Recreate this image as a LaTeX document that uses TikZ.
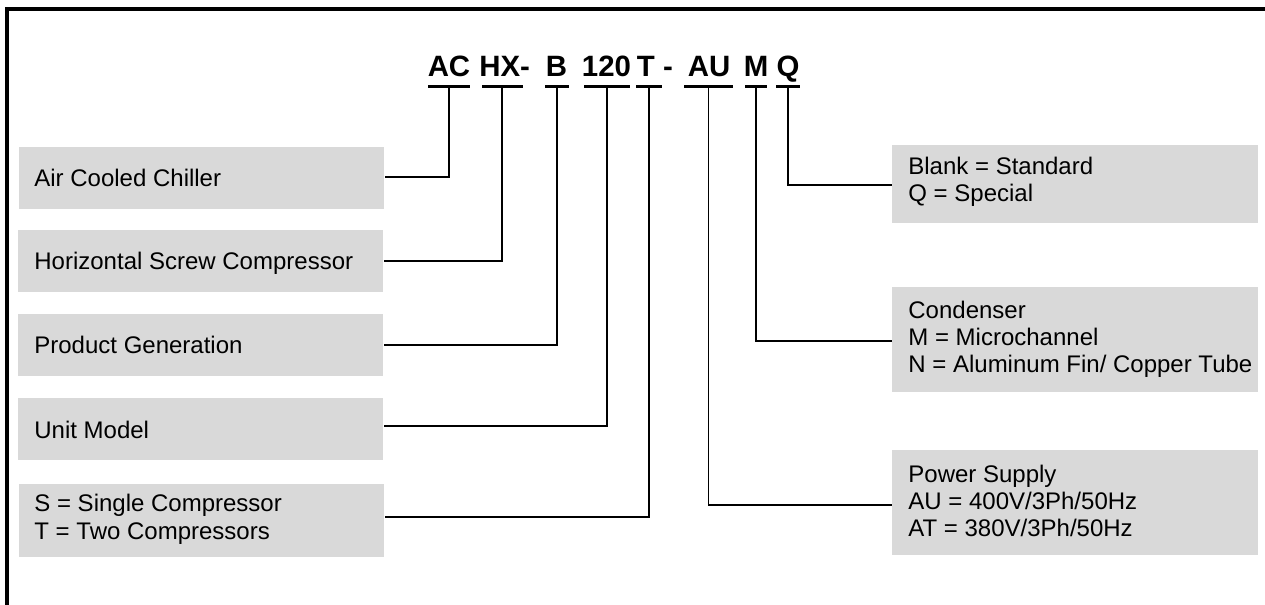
\documentclass[tikz,border=0pt]{standalone}
\usepackage{fontspec}
\setmainfont{Liberation Sans}
\definecolor{boxgray}{RGB}{217,217,217}
\tikzset{
  lbox/.style={fill=boxgray, draw=none, inner sep=0pt, minimum width=182.5pt, anchor=west},
  rbox/.style={fill=boxgray, draw=none, inner sep=0pt, minimum width=183pt, anchor=west},
  btext/.style={inner sep=0pt, align=left, font=\fontsize{12}{13.6}\selectfont},
  code/.style={inner sep=0pt, font=\fontsize{14.7}{16}\selectfont\bfseries},
  uline/.style={fill=black, draw=none, inner sep=0pt, minimum height=1.5pt},
  conn/.style={draw=black, line width=0.75pt},
  frame/.style={draw=black, line width=2pt}
}
\begin{document}
\begin{tikzpicture}[x=0.5pt,y=-0.5pt]
\useasboundingbox (0,0) rectangle (1265,605);
\draw[frame] (7,605) -- (7,9) -- (1265,9);

% code letters
\node[code, anchor=base] (cAC) at (449,76) {AC};
\node[code, anchor=base west] (cHX) at (479,76) {HX-};
\node[code, anchor=base] (cB) at (556.5,76) {B};
\node[code, anchor=base] (c120) at (606.5,76) {120};
\node[code, anchor=base west] (cT) at (636.5,76) {T -};
\node[code, anchor=base] (cAU) at (709,76) {AU};
\node[code, anchor=base] (cM) at (756,76) {M};
\node[code, anchor=base] (cQ) at (788,76) {Q};

% underlines
\node[uline, minimum width=21pt] (u1) at (449,86) {};
\node[uline, minimum width=20.5pt] (u2) at (502,86) {};
\node[uline, minimum width=12pt] (u3) at (557,86) {};
\node[uline, minimum width=23pt] (u4) at (607,86) {};
\node[uline, minimum width=13pt] (u5) at (649,86) {};
\node[uline, minimum width=24.5pt] (u6) at (708.5,86) {};
\node[uline, minimum width=11pt] (u7) at (756,86) {};
\node[uline, minimum width=12pt] (u8) at (788,86) {};

% left boxes
\node[lbox, minimum height=31pt] (b1) at (19,178) {};
\node[lbox, minimum height=31pt] (b2) at (18,261) {};
\node[lbox, minimum height=31pt] (b3) at (18,345) {};
\node[lbox, minimum height=31pt] (b4) at (18,429) {};
\node[lbox, minimum height=36.5pt] (b5) at (19,520.5) {};

\node[btext, anchor=base west] (t1) at (34,186) {Air Cooled Chiller};
\node[btext, anchor=base west] (t2) at (34,269) {Horizontal Screw Compressor};
\node[btext, anchor=base west] (t3) at (34,353) {Product Generation};
\node[btext, anchor=base west] (t4) at (34,438) {Unit Model};
\node[btext, anchor=west] (t5) at (34,519.25) {S = Single Compressor\\T = Two Compressors};

% right boxes
\node[rbox, minimum height=39pt] (r1) at (892,184) {};
\node[rbox, minimum height=52.5pt] (r2) at (892,339.5) {};
\node[rbox, minimum height=52.5pt] (r3) at (892,502.5) {};

\node[btext, anchor=west] (s1) at (908,181.75) {Blank = Standard\\Q = Special};
\node[btext, anchor=west] (s2) at (908,339.5) {Condenser\\M = Microchannel\\N = Aluminum Fin/ Copper Tube};
\node[btext, anchor=west] (s3) at (908,501) {Power Supply\\AU = 400V/3Ph/50Hz\\AT = 380V/3Ph/50Hz};

% connectors
\draw[conn] (u1.south) |- ([yshift=0.5pt]b1.east);
\draw[conn] (u2.south) |- (b2.east);
\draw[conn] (u3.south) |- (b3.east);
\draw[conn] (u4.south) |- ([yshift=1.5pt]b4.east);
\draw[conn] (u5.south) |- ([yshift=1.75pt]b5.east);
\draw[conn] (u6.south) |- ([yshift=-1.25pt]r3.west);
\draw[conn] (u7.south) |- ([yshift=-0.75pt]r2.west);
\draw[conn] (u8.south) |- ([yshift=-0.5pt]r1.west);
\end{tikzpicture}
\end{document}
